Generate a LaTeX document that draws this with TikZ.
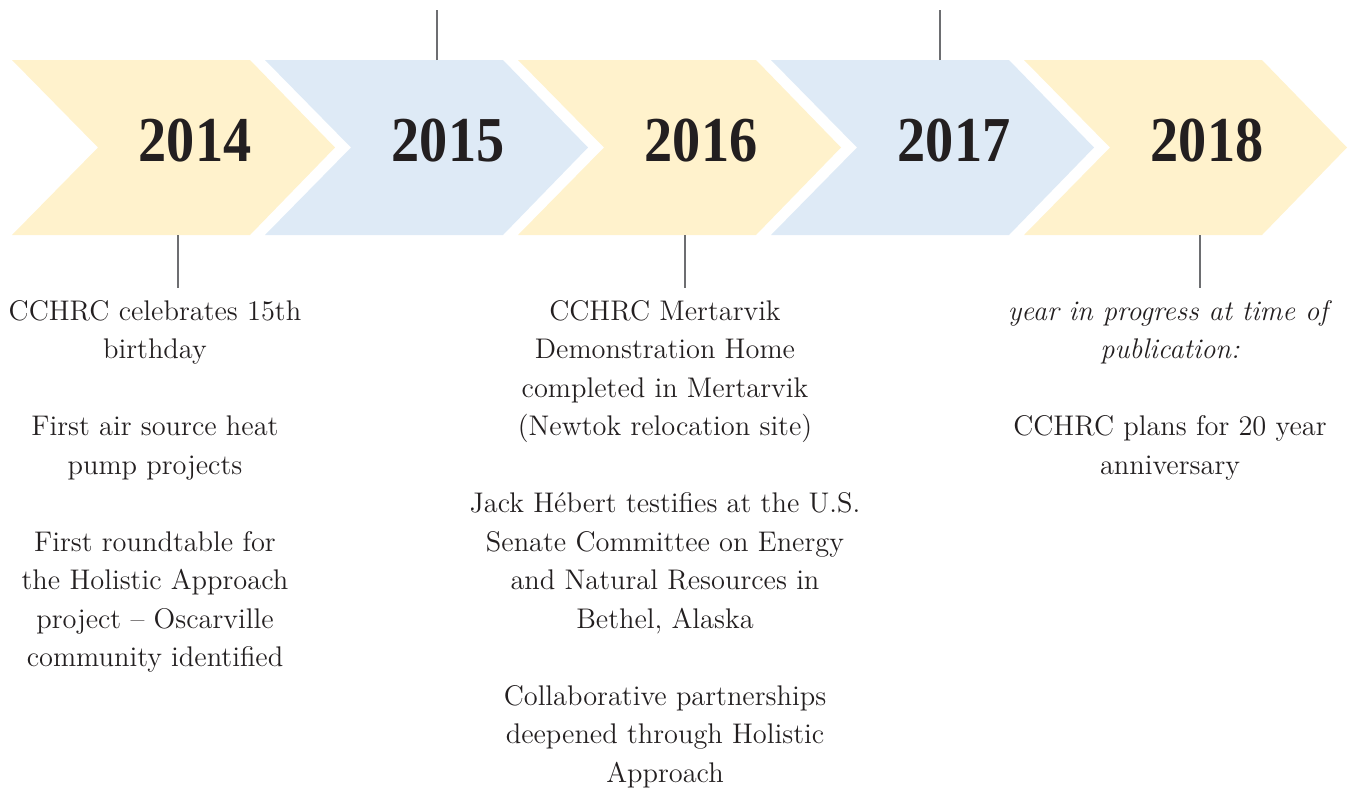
\documentclass[tikz,border=0pt]{standalone}
\usepackage{fontspec}
\newfontfamily\yearfont[FakeStretch=0.88]{Liberation Serif}
\definecolor{sand}{HTML}{FFF2CC}
\definecolor{sky}{HTML}{DEEAF6}
\definecolor{ink}{HTML}{231F20}
\definecolor{tickgray}{HTML}{6D6E71}
\begin{document}
\begin{tikzpicture}[x=0.5pt, y=-0.5pt,
		year/.style={text=ink, inner sep=0pt, font=\yearfont\bfseries\fontsize{32}{32}\selectfont},
		event/.style={anchor=north, align=center, text=ink, inner sep=0pt, font=\fontsize{14.2}{19.25}\selectfont},
		tick/.style={draw=tickgray, line width=0.9pt}]
	\useasboundingbox (0,0) rectangle (1351,788);
	\foreach \i/\yr/\col/\tx in {0/2014/sand/178, 1/2015/sky/437, 2/2016/sand/685, 3/2017/sky/940, 4/2018/sand/1200} {
	   \pgfmathsetmacro{\xo}{12+253*\i}
	   \fill[\col] (\xo,60) -- ++(238,0) -- ++(85,87.5) -- ++(-85,87.5) -- ++(-238,0) -- ++(86,-87.5) -- cycle;
	   \node[year] (y\yr) at (\xo+183,141) {\yr};
	   \coordinate (top\yr) at (\tx,60);
	   \coordinate (bot\yr) at (\tx,235);
	   }
	\node[event] (ev2014) at (155,300) {CCHRC celebrates 15th\\birthday\\[19.25pt]
		First air source heat\\pump projects\\[19.25pt]
		First roundtable for\\the Holistic Approach\\project -- Oscarville\\community identified};
	\node[event] (ev2016) at (665,300) {CCHRC Mertarvik\\Demonstration Home\\completed in Mertarvik\\(Newtok relocation site)\\[19.25pt]
		Jack Hébert testifies at the U.S.\\Senate Committee on Energy\\and Natural Resources in\\Bethel, Alaska\\[19.25pt]
		Collaborative partnerships\\deepened through Holistic\\Approach};
	\node[event] (ev2018) at (1170,300) {\textit{year in progress at time of}\\\textit{publication:}\\[19.25pt]
		CCHRC plans for 20 year\\anniversary};
	\foreach \yr in {2015,2017} {
	   \draw[tick] (top\yr) -- (top\yr |- 0,10);
	   }
	\foreach \yr in {2014,2016,2018} {
	   \draw[tick, shorten >=6pt] (bot\yr) -- (bot\yr |- ev\yr.north);
	   }
\end{tikzpicture}
\end{document}
